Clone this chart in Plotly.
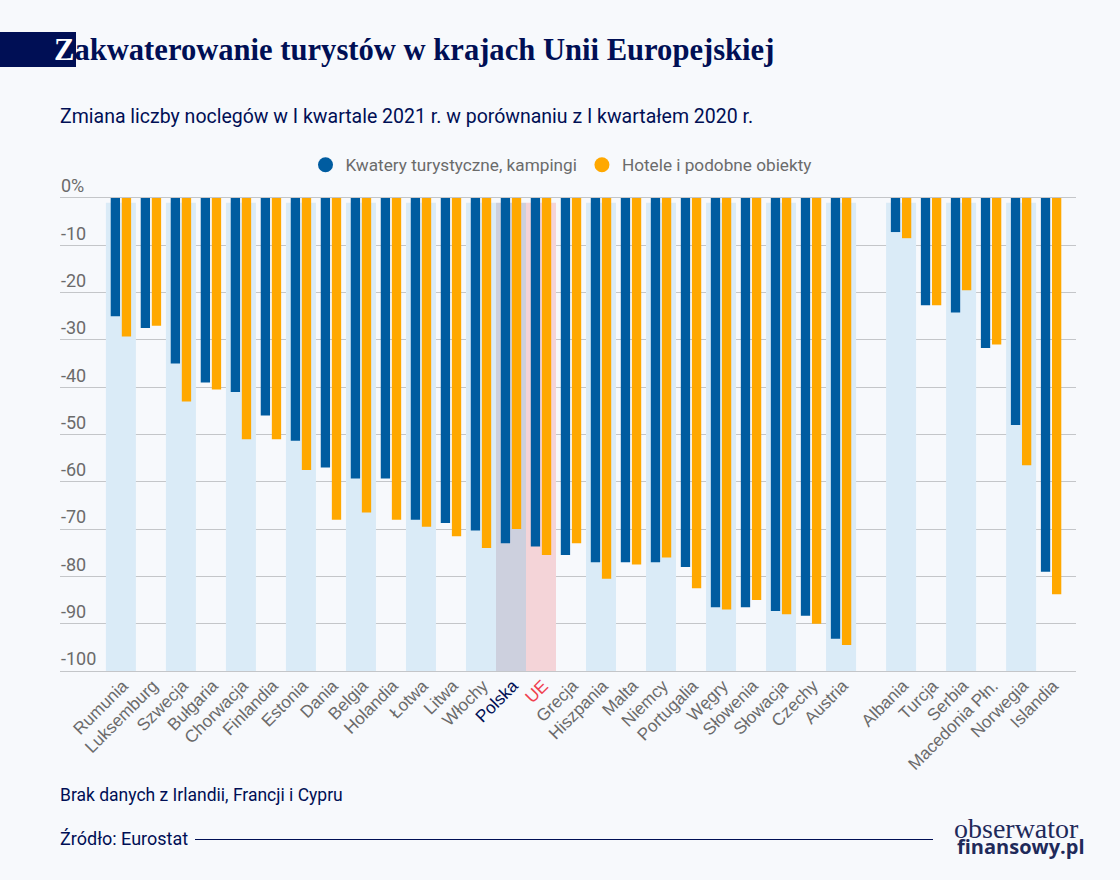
import plotly.graph_objects as go

positions = list(range(25)) + [26, 27, 28, 29, 30, 31]
countries = ["Rumunia","Luksemburg","Szwecja","Bułgaria","Chorwacja","Finlandia","Estonia","Dania","Belgia","Holandia","Łotwa","Litwa","Włochy","Polska","UE","Grecja","Hiszpania","Malta","Niemcy","Portugalia","Węgry","Słowenia","Słowacja","Czechy","Austria","Albania","Turcja","Serbia","Macedonia Płn.","Norwegia","Islandia"]
kwatery = [-25,-27.5,-35,-39,-41,-46,-51.3,-57,-59.3,-59.3,-68,-68.7,-70.3,-73,-73.7,-75.5,-77,-77,-77,-78,-86.5,-86.5,-87.3,-88.3,-93.2,-7.2,-22.7,-24.2,-31.7,-48,-79]
hotele = [-29.3,-27,-43,-40.5,-51,-51,-57.5,-68,-66.5,-68,-69.5,-71.5,-74,-70,-75.5,-73,-80.5,-77.5,-76,-82.5,-87,-85,-88,-90,-94.5,-8.5,-22.7,-19.5,-31,-56.5,-83.8]
band_countries = ["Rumunia","Szwecja","Chorwacja","Estonia","Belgia","Łotwa","Włochy","Polska","UE","Hiszpania","Niemcy","Węgry","Słowacja","Austria","Albania","Serbia","Norwegia"]
y_ticks = [0,-10,-20,-30,-40,-50,-60,-70,-80,-90,-100]
y_labels = ["0%","-10","-20","-30","-40","-50","-60","-70","-80","-90","-100"]

NAVY = "#000F55"; BLUE = "#005CA0"; ORANGE = "#FFA800"; GREY = "#6B6B6B"; BG = "#F7F9FC"
BAND = "#DAEBF7"; BAND_PL = "#CDD0DE"; BAND_UE = "#F4D4D8"; RED = "#F04050"

pos_of = dict(zip(countries, positions))
band_x = [pos_of[c] for c in band_countries]
band_col = [BAND_PL if c == "Polska" else BAND_UE if c == "UE" else BAND for c in band_countries]
ticktext = [f'<span style="color:{NAVY}">{c}</span>' if c == "Polska" else f'<span style="color:{RED}">{c}</span>' if c == "UE" else c for c in countries]

def px(x): return (x - 60) / 1016
def py(y): return (671 - y) / 496

fig = go.Figure()
fig.add_bar(x=band_x, y=[-99]*len(band_x), base=-1, width=1.0, marker=dict(color=band_col, line_width=0), showlegend=False, hoverinfo="skip")
fig.add_bar(x=positions, y=kwatery, width=0.31, offset=-0.34, marker=dict(color=BLUE, line_width=0), showlegend=False, name="Kwatery turystyczne, kampingi")
fig.add_bar(x=positions, y=hotele, width=0.31, offset=0.03, marker=dict(color=ORANGE, line_width=0), showlegend=False, name="Hotele i podobne obiekty")
fig.add_scatter(x=[None], y=[None], mode="markers", marker=dict(color=BLUE, size=15), name="Kwatery turystyczne, kampingi")
fig.add_scatter(x=[None], y=[None], mode="markers", marker=dict(color=ORANGE, size=15), name="Hotele i podobne obiekty")

fig.update_layout(
    width=1120, height=880, autosize=False,
    paper_bgcolor=BG, plot_bgcolor=BG,
    margin=dict(l=60, r=44, t=175, b=209),
    barmode="overlay",
    font=dict(family="Roboto", color=GREY, size=16),
    legend=dict(orientation="h", x=px(561), xanchor="center", y=py(165), yanchor="middle",
                font=dict(family="Roboto", size=17.2, color=GREY), bgcolor="rgba(0,0,0,0)", itemwidth=30,
                traceorder="normal"),
    xaxis=dict(range=[-2.03, 31.83], tickmode="array", tickvals=positions, ticktext=ticktext, tickangle=-45,
               showgrid=False, zeroline=False, showline=True, linecolor="#C4C6C9", linewidth=1, ticks="",
               ticklabelstandoff=-3, ticklabelshift=2,
               tickfont=dict(family="Liberation Sans", size=17.2, color=GREY), fixedrange=True),
    yaxis=dict(range=[-100, 4.86], tickmode="array", tickvals=y_ticks, ticktext=y_labels,
               showgrid=True, gridcolor="#C4C6C9", gridwidth=1, zeroline=False, showline=False, ticks="",
               ticklabelposition="inside", ticklabelshift=-12, ticklabelstandoff=-2,
               tickfont=dict(family="Roboto", size=18, color=GREY), fixedrange=True),
    shapes=[
        dict(type="rect", xref="paper", yref="paper", x0=px(0), x1=px(76), y0=py(67), y1=py(32), fillcolor=NAVY, line_width=0, layer="below"),
        dict(type="line", xref="paper", yref="paper", x0=px(195), x1=px(933), y0=py(839.5), y1=py(839.5), line=dict(color=NAVY, width=1)),
    ],
    annotations=[
        dict(xref="paper", yref="paper", x=px(52), y=py(50), xanchor="left", yanchor="middle", showarrow=False,
             text='<b><span style="color:#FFFFFF">Z</span>akwaterowanie turystów w krajach Unii Europejskiej</b>',
             font=dict(family="Liberation Serif", size=30.6, color=NAVY)),
        dict(xref="paper", yref="paper", x=px(58), y=py(116), xanchor="left", yanchor="middle", showarrow=False,
             text="Zmiana liczby noclegów w I kwartale 2021 r. w porównaniu z I kwartałem 2020 r.",
             font=dict(family="Roboto", size=19.5, color=NAVY)),
        dict(xref="paper", yref="paper", x=px(58), y=py(795), xanchor="left", yanchor="middle", showarrow=False,
             text="Brak danych z Irlandii, Francji i Cypru", font=dict(family="Roboto", size=17.5, color=NAVY)),
        dict(xref="paper", yref="paper", x=px(58), y=py(838), xanchor="left", yanchor="middle", showarrow=False,
             text="Źródło: Eurostat", font=dict(family="Roboto", size=18, color=NAVY)),
        dict(xref="paper", yref="paper", x=px(1081), y=py(828), xanchor="right", yanchor="middle", showarrow=False,
             text="obserwator", font=dict(family="Liberation Serif", size=28, color="#1F2A5A")),
        dict(xref="paper", yref="paper", x=px(1087), y=py(846), xanchor="right", yanchor="middle", showarrow=False,
             text="<b>finansowy.pl</b>", font=dict(family="Open Sans", size=20, color="#1F2A5A")),
    ],
)
fig.write_html("out.html", config=dict(displayModeBar=False),
               post_script="document.body.style.margin='0';document.body.style.background='%s';" % BG)
